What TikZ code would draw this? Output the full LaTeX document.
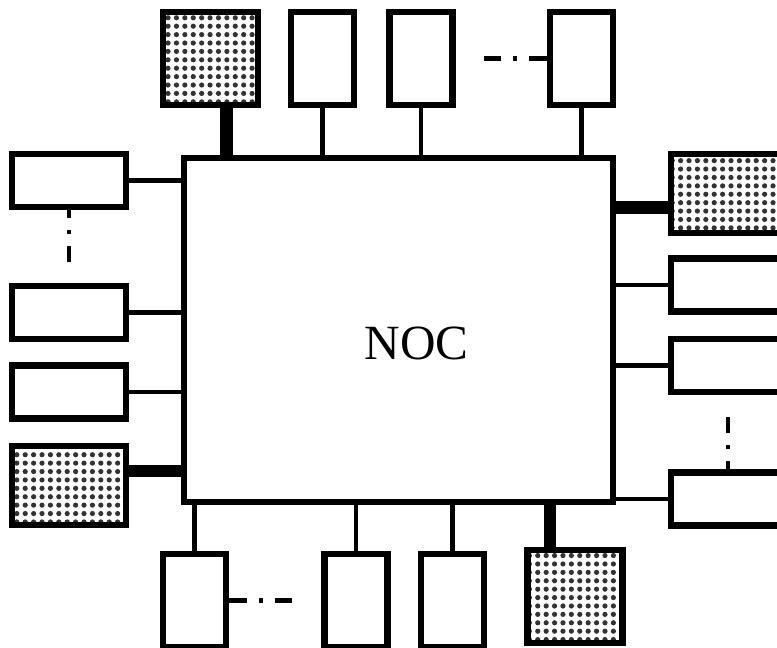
\documentclass[tikz,border=0pt]{standalone}
\usepackage{fontspec}
\setmainfont{Liberation Serif}
\usetikzlibrary{patterns.meta}

\begin{document}
\begin{tikzpicture}[x=0.025cm, y=-0.025cm,
  unit/.style={rectangle, draw, line width=0.16cm, inner sep=0pt},
  tallbox/.style={unit, minimum width=1.58cm, minimum height=2.32cm},
  widebox/.style={unit, minimum width=2.84cm, minimum height=1.315cm},
  memfill/.style={pattern={Dots[distance=0.21cm, radius=0.065cm]}, pattern color=black!80},
  memtop/.style={unit, memfill, minimum width=2.38cm, minimum height=2.32cm},
  memside/.style={unit, memfill, minimum width=2.84cm, minimum height=1.965cm},
  link/.style={line width=0.12cm},
  buslink/.style={line width=0.32cm},
  moreh/.style={line width=0.12cm, dash pattern=on 0.45cm off 0.3cm on 0.1cm off 0.3cm on 0.425cm},
  morev/.style={line width=0.12cm, dash pattern=on 0.2cm off 0.3cm on 0.1cm off 0.3cm on 0.4cm}
]
  \useasboundingbox (0,0) rectangle (777,648);
  \clip (0,0) rectangle (777,648);

  % network on chip
  \node[unit, minimum width=10.715cm, minimum height=8.59cm] (noc) at (398.5,330) {};
  \node[font=\fontsize{35}{42}\selectfont] (noctext) at (416.5,343.5) {NOC};

  % top row
  \node[memtop] (T1) at (210.5,58.5) {};
  \node[tallbox] (T2) at (322.5,58.5) {};
  \node[tallbox] (T3) at (421,58.5) {};
  \node[tallbox] (T4) at (581.5,58.5) {};

  % left column
  \node[widebox] (L1) at (69,180.5) {};
  \node[widebox] (L2) at (69,312.5) {};
  \node[widebox] (L3) at (69,392) {};
  \node[memside] (L4) at (69,485.5) {};

  % right column
  \node[memside] (R1) at (728,193.5) {};
  \node[widebox] (R2) at (728,285) {};
  \node[widebox] (R3) at (728,365.5) {};
  \node[widebox] (R4) at (728,499) {};

  % bottom row
  \node[tallbox] (B1) at (194.5,600.5) {};
  \node[tallbox] (B2) at (356,600.5) {};
  \node[tallbox] (B3) at (452.5,600.5) {};
  \node[memtop] (B4) at (575,596.5) {};

  % plain links
  \foreach \n in {T2,T3,T4}
    \draw[link] (\n.south) -- (\n.south |- noc.north);
  \foreach \n in {L1,L2,L3}
    \draw[link] (\n.east) -- (\n.east -| noc.west);
  \foreach \n in {R2,R3,R4}
    \draw[link] (\n.west) -- (\n.west -| noc.east);
  \foreach \n in {B1,B2,B3}
    \draw[link] (\n.north) -- (\n.north |- noc.south);

  % memory links
  \coordinate (t1c) at ([xshift=0.4cm]T1.south);
  \coordinate (l4c) at ([yshift=0.36cm]L4.east);
  \coordinate (r1c) at ([yshift=-0.34cm]R1.west);
  \coordinate (b4c) at ([xshift=-0.625cm]B4.north);
  \draw[buslink] (t1c) -- (t1c |- noc.north);
  \draw[buslink] (l4c) -- (l4c -| noc.west);
  \draw[buslink] (r1c) -- (r1c -| noc.east);
  \draw[buslink] (b4c) -- (b4c |- noc.south);

  % more units
  \draw[moreh] (T4.west) -- ++(-64,0);
  \draw[moreh] (B1.east) -- ++(64,0);
  \draw[morev] (L1.south) -- ++(0,54);
  \draw[morev] (R4.north) -- ++(0,-54);
\end{tikzpicture}
\end{document}
